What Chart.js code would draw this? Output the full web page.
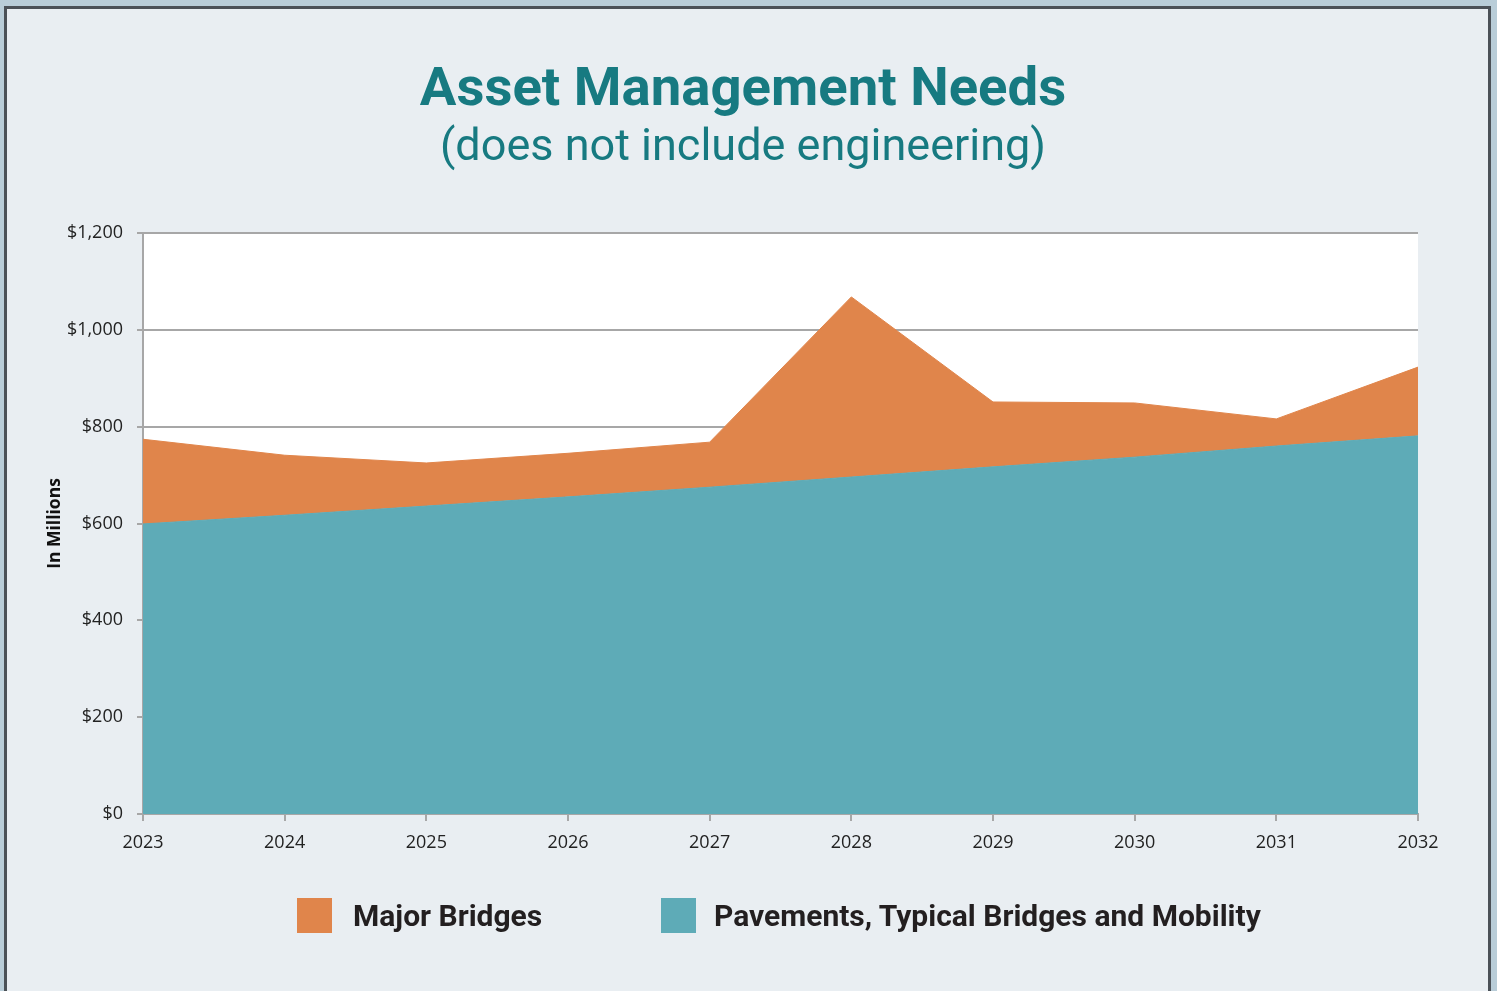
<!DOCTYPE html>
<html>
<head>
<meta charset="utf-8">
<script src="https://cdn.jsdelivr.net/npm/chart.js@4.4.0/dist/chart.umd.min.js"></script>
<style>
  html, body { margin: 0; padding: 0; }
  body { width: 1497px; height: 991px; background: #b9cdd8; position: relative; overflow: hidden; }
  #frame { position: absolute; left: 4px; top: 6px; width: 1481px; height: 1000px;
           border: 3px solid #4b5157; border-bottom: none; background: #e9eef2; }
  #chart { position: absolute; left: 0; top: 0; }
  .t { position: absolute; left: 243px; width: 1000px; text-align: center; color: #177a81;
       font-family: Roboto, sans-serif; line-height: 1; white-space: nowrap; }
  #title { top: 59px; font-size: 54.5px; font-weight: 700; }
  #subtitle { top: 122px; font-size: 45px; font-weight: 400; }
  .lg { position: absolute; top: 898px; height: 35px; display: flex; align-items: center; }
  .lg .box { width: 35px; height: 35px; }
  .lg .txt { font-family: Roboto, sans-serif; font-weight: 700; font-size: 30px; color: #231f20; white-space: nowrap; }
</style>
</head>
<body>
<div id="frame"></div>
<canvas id="chart" width="1497" height="991"></canvas>
<div class="t" id="title">Asset Management Needs</div>
<div class="t" id="subtitle">(does not include engineering)</div>
<div id="legend"></div>
<script>
const years = ['2023','2024','2025','2026','2027','2028','2029','2030','2031','2032'];
const pavements = [599, 617, 636, 655, 675, 696, 717, 737, 760, 781];
const majorBridges = [175, 124, 89, 90, 93, 372, 134, 112, 56, 142];
const yTickValues = [0, 200, 400, 600, 800, 1000, 1200];
const yTickLabels = ['$0', '$200', '$400', '$600', '$800', '$1,000', '$1,200'];
const seriesNames = ['Major Bridges', 'Pavements, Typical Bridges and Mobility'];
const orange = '#e0854b';
const teal = '#5eabb7';

// HTML legend
const legendPos = [{box: 297, gap: 21}, {box: 661, gap: 18}];
const legendColors = [orange, teal];
const legendEl = document.getElementById('legend');
seriesNames.forEach((name, i) => {
  const d = document.createElement('div');
  d.className = 'lg';
  d.style.left = legendPos[i].box + 'px';
  d.innerHTML = '<div class="box" style="background:' + legendColors[i] + '"></div>' +
                '<div class="txt" style="margin-left:' + legendPos[i].gap + 'px">' + name + '</div>';
  legendEl.appendChild(d);
});

const plotBg = {
  id: 'plotBg',
  beforeDraw(chart) {
    const {ctx, chartArea: a} = chart;
    ctx.save();
    ctx.fillStyle = '#ffffff';
    ctx.fillRect(a.left, a.top, a.right - a.left, a.bottom - a.top);
    ctx.restore();
  }
};

const gridColor = '#a7a7a7';
const tickFont = { family: '"Open Sans", sans-serif', size: 18 };

new Chart(document.getElementById('chart'), {
  type: 'line',
  data: {
    labels: years,
    datasets: [
      { label: seriesNames[1], data: pavements, backgroundColor: teal, borderColor: teal,
        borderWidth: 1, pointRadius: 0, fill: 'origin', tension: 0 },
      { label: seriesNames[0], data: majorBridges, backgroundColor: orange, borderColor: orange,
        borderWidth: 1, pointRadius: 0, fill: '-1', tension: 0 }
    ]
  },
  options: {
    responsive: false,
    animation: false,
    layout: { padding: { left: 0, top: 233, right: 79, bottom: 127 } },
    plugins: { legend: { display: false }, tooltip: { enabled: false }, title: { display: false } },
    scales: {
      x: {
        offset: false,
        grid: { drawOnChartArea: false, drawTicks: true, tickLength: 7, color: gridColor, lineWidth: 2 },
        border: { color: gridColor, width: 2 },
        ticks: { color: '#222', font: tickFont, padding: 11, maxRotation: 0, autoSkip: false },
        afterFit(s) { s.height = 50; }
      },
      y: {
        stacked: true,
        min: 0, max: 1200,
        afterBuildTicks(s) { s.ticks = yTickValues.map(v => ({ value: v })); },
        grid: { color: gridColor, lineWidth: 2, tickLength: 6 },
        border: { color: gridColor, width: 2 },
        ticks: { color: '#222', font: tickFont, padding: 14,
                 callback(v) { const i = yTickValues.indexOf(v); return i >= 0 ? yTickLabels[i] : ''; } },
        title: { display: true, text: 'In Millions', color: '#111',
                 font: { family: '"Open Sans", sans-serif', size: 17.5, weight: 'bold' },
                 padding: { top: 45, bottom: 0 } },
        afterFit(s) { s.width = 143; }
      }
    }
  },
  plugins: [plotBg]
});
</script>
</body>
</html>
